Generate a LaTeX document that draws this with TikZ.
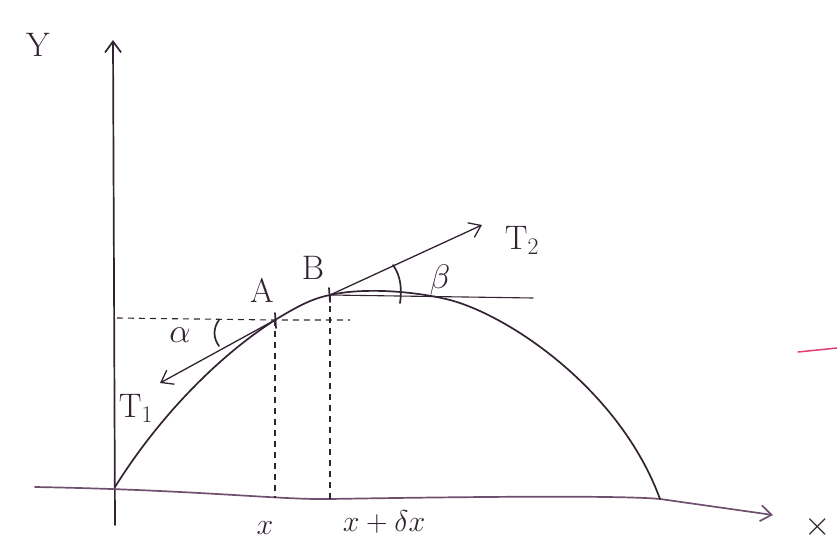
\RequirePackage{fix-cm}
\documentclass[tikz,border=0pt]{standalone}
\usetikzlibrary{arrows.meta}
\definecolor{ink}{RGB}{50,35,50}
\definecolor{axisink}{RGB}{110,80,110}
\definecolor{redmark}{RGB}{230,60,110}
\tikzset{
  pen/.style={draw=ink, line width=1.7pt, line cap=round, line join=round},
  axispen/.style={draw=axisink, line width=1.7pt, line cap=round},
  dashpen/.style={draw=ink, line width=1.1pt, dash pattern=on 6pt off 5pt},
  lbl/.style={text=ink, font=\fontsize{34}{40}\selectfont, inner sep=1pt},
  sml/.style={text=ink, font=\fontsize{30}{36}\selectfont, inner sep=1pt},
  tip/.style={-{Straight Barb[length=11pt,width=16pt]}},
}
\begin{document}
\begin{tikzpicture}[x=1pt,y=-1pt]
\useasboundingbox (0,0) rectangle (837,540);
% key points
\coordinate (O) at (115,487);
\coordinate (A) at (275,320);
\coordinate (B) at (330,295);
\coordinate (Pk) at (450,300);
\coordinate (E) at (660,499);
\coordinate (Ytop) at (113,40);
\coordinate (Ybot) at (115,525);
\coordinate (Xl) at (35,487);
\coordinate (Xr) at (773,515);
\coordinate (T1e) at (160,383);
\coordinate (T2e) at (482,225);
\coordinate (Hl) at (117,318);
\coordinate (Hr) at (350,320);
\coordinate (Br) at (533,298);
\coordinate (Ax) at (275,498);
\coordinate (Bx) at (330,499);
% axes
\draw[pen, tip] (Ybot) -- (Ytop);
\draw[axispen, tip] (Xl) .. controls (200,490) and (280,500) .. (Bx)
  .. controls (450,497) and (620,495) .. (E) -- (Xr);
% curve
\draw[pen] (O) .. controls (160,415) and (220,355) .. (A)
  .. controls (295,308) and (310,299) .. (B)
  .. controls (360,288) and (410,290) .. (Pk)
  .. controls (510,316) and (620,390) .. (E);
% tangents
\draw[pen, line width=1.3pt, tip] (A) -- (T1e);
\draw[pen, line width=1.3pt, tip] (B) -- (T2e);
% horizontal reference lines
\draw[dashpen] (Hl) -- (A) -- (Hr);
\draw[pen, line width=1.1pt] (B) -- (Br);
% vertical dashed lines
\draw[dashpen] (A) -- (Ax);
\draw[dashpen] (B) -- (Bx);
% tick marks at A and B
\draw[pen] (275,313) -- (276,328);
\draw[pen] (329,288) -- (330,302);
% angle arcs
\draw[pen] (219,320) .. controls (213,328) and (213,338) .. (219,346);
\draw[pen] (393,265) .. controls (401,276) and (402,290) .. (400,303);
% labels
\node[lbl] (ly) at (38,45) {Y};
\node[lbl] (lx) at (818,527) {$\times$};
\node[lbl] (la) at (262,290) {A};
\node[lbl] (lb) at (313,268) {B};
\node[lbl] (lbeta) at (440,280) {$\beta$};
\node[lbl] (lt2) at (522,240) {T$_2$};
\node[lbl] (lalpha) at (180,335) {$\alpha$};
\node[lbl] (lt1) at (136,408) {T$_1$};
\node[sml] (lxa) at (265,528) {$x$};
\node[sml] (lxb) at (384,522) {$x+\delta x$};
% stray red mark
\draw[redmark, line width=1.5pt, line cap=round] (798,352) -- (837,348);
\end{tikzpicture}
\end{document}
